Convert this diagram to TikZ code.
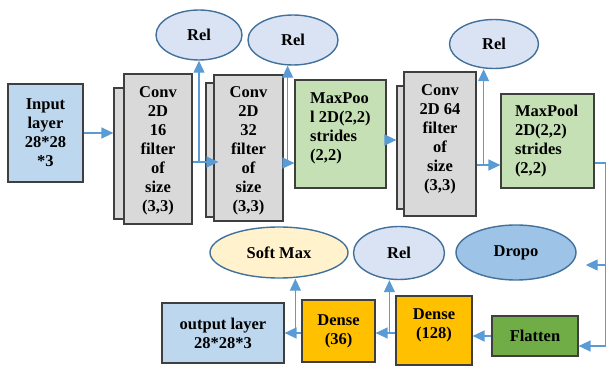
\documentclass[tikz,border=0pt]{standalone}
\usepackage{fontspec}
\setmainfont{Liberation Serif}
\usetikzlibrary{arrows.meta,positioning,shapes.geometric}
\definecolor{cLine}{HTML}{5B9BD5}
\definecolor{cEdge}{HTML}{41719C}
\definecolor{cFrame}{HTML}{3F3F3F}
\definecolor{cIn}{HTML}{BDD7EE}
\definecolor{cConv}{HTML}{D9D9D9}
\definecolor{cPool}{HTML}{C5E0B4}
\definecolor{cRel}{HTML}{DAE3F3}
\definecolor{cSoft}{HTML}{FFF2CC}
\definecolor{cDrop}{HTML}{9DC3E6}
\definecolor{cFlat}{HTML}{70AD47}
\definecolor{cDense}{HTML}{FFC000}

\begin{document}
\begin{tikzpicture}[
  x=1pt, y=-1pt,
  font=\fontsize{16.5}{19}\selectfont\bfseries,
  box/.style={rectangle, draw=cFrame, line width=1.2pt, fill=#1, text=black,
              align=center, inner sep=1pt},
  conv/.style={box=cConv},
  pool/.style={box=cPool, align=left},
  act/.style={ellipse, draw=cEdge, line width=1.4pt, fill=#1, text=black, inner sep=0pt},
  txt/.style={align=#1, inner sep=0pt},
  flow/.style={-{Triangle[length=12pt,width=11pt]}, line width=1.3pt, draw=cLine},
]
\useasboundingbox (0,0) rectangle (606,366);

% ---------- top row ----------
\node[box=cIn, minimum width=75, minimum height=98] (input) at (45.5,133) {Input\\layer\\28*28\\*3};

\node[conv, minimum width=68, minimum height=131] (conv1b) at (148,153.5) {};
\node[conv, minimum width=68, minimum height=150] (conv1) at (158,149) {};
\node[txt=center] (conv1t) at (158,151) {Conv\\2D\\16\\filter\\of\\size\\(3,3)};
\node[conv, minimum width=69, minimum height=134] (conv2b) at (240.5,150) {};
\node[conv, minimum width=69, minimum height=146] (conv2) at (248.5,148) {};
\node[txt=center] (conv2t) at (248.5,151) {Conv\\2D\\32\\filter\\of\\size\\(3,3)};

\node[pool, minimum width=91, minimum height=108] (mp1) at (340.5,134) {};
\node[txt=left, anchor=north west] (mp1t) at (310,92) {MaxPoo\\l 2D(2,2)\\strides\\(2,2)};

\node[conv, minimum width=72, minimum height=123] (conv3b) at (433,147.5) {};
\node[conv, minimum width=72, minimum height=144] (conv3) at (440,144) {};
\node[txt=center] (conv3t) at (440,139) {Conv\\2D 64\\filter\\of\\size\\(3,3)};

\node[pool, minimum width=93, minimum height=94, text width=65] (mp2) at (547.5,141)
  {MaxPool\\2D(2,2)\\strides\\(2,2)};

% ---------- activations ----------
\node[act=cRel, minimum width=86, minimum height=50] (rel1) at (199,35) {Rel};
\node[act=cRel, minimum width=90, minimum height=50] (rel2) at (293,40) {Rel};
\node[act=cRel, minimum width=89, minimum height=49] (rel3) at (494,44) {Rel};
\node[act=cSoft, minimum width=138, minimum height=51] (soft) at (279,252.5) {Soft Max};
\node[act=cRel, minimum width=91, minimum height=53] (rel4) at (399,253) {Rel};
\node[act=cDrop, minimum width=120, minimum height=55] (drop) at (516,252.5) {Dropo};

% ---------- bottom row ----------
\node[box=cFlat, minimum width=86, minimum height=40] (flat) at (535,336) {Flatten};
\node[box=cDense, minimum width=76, minimum height=69] (d128) at (434,330.5) {};
\node[txt=center] (d128t) at (434,325.5) {Dense\\(128)};
\node[box=cDense, minimum width=73, minimum height=62] (d36) at (338.5,331) {Dense\\(36)};
\node[box=cIn, minimum width=122, minimum height=60] (out) at (223,333) {output layer\\28*28*3};

% ---------- arrows ----------
\draw[flow] (input.east) -- (input.east -| conv1b.west);

\coordinate (j1) at ([yshift=-13pt]conv1.east);
\draw[flow] (j1) -- ([xshift=5pt]j1 -| conv2.west);
\draw[flow] (j1 -| rel1.south) -- (rel1.south);

\coordinate (j2) at ([yshift=-15pt]conv2.east);
\draw[flow] (j2) -- (j2 -| mp1.west);
\draw[flow] ([xshift=4pt]j2) -- ([xshift=4pt]j2 |- rel2.south);

\draw[flow] ([yshift=-6pt]mp1.east) -- ([yshift=-6pt]mp1.east -| conv3b.west);

\coordinate (j3) at ([yshift=-21pt]conv3.east);
\draw[flow] (j3) -- (j3 -| mp2.west);
\draw[flow] ([xshift=7pt]j3) -- ([xshift=7pt]j3 |- rel3.south);

% right side loop down to flatten
\coordinate (j4) at ([yshift=-22pt]mp2.east);
\coordinate (rc) at ([xshift=11pt]j4);
\coordinate (fl) at ([yshift=-10pt]flat.east);
\coordinate (dp) at ([xshift=9pt,yshift=-12.5pt]drop.east);
\draw[flow] (j4) -- (rc) |- (fl);
\draw[flow] (rc |- dp) -- (dp);

\draw[flow] (flat.west) -- (flat.west -| d128.east);

\coordinate (j5) at ([yshift=-2.5pt]d128.west);
\draw[flow] (j5) -- (j5 -| d36.east);
\draw[flow] ([xshift=-6pt]j5) -- ([xshift=-6pt]j5 |- rel4.south);

\coordinate (j6) at ([yshift=-2pt]d36.west);
\draw[flow] (j6) -- (j6 -| out.east);
\draw[flow] ([xshift=-6pt]j6) -- ([xshift=-6pt]j6 |- soft.south);

\end{tikzpicture}
\end{document}
